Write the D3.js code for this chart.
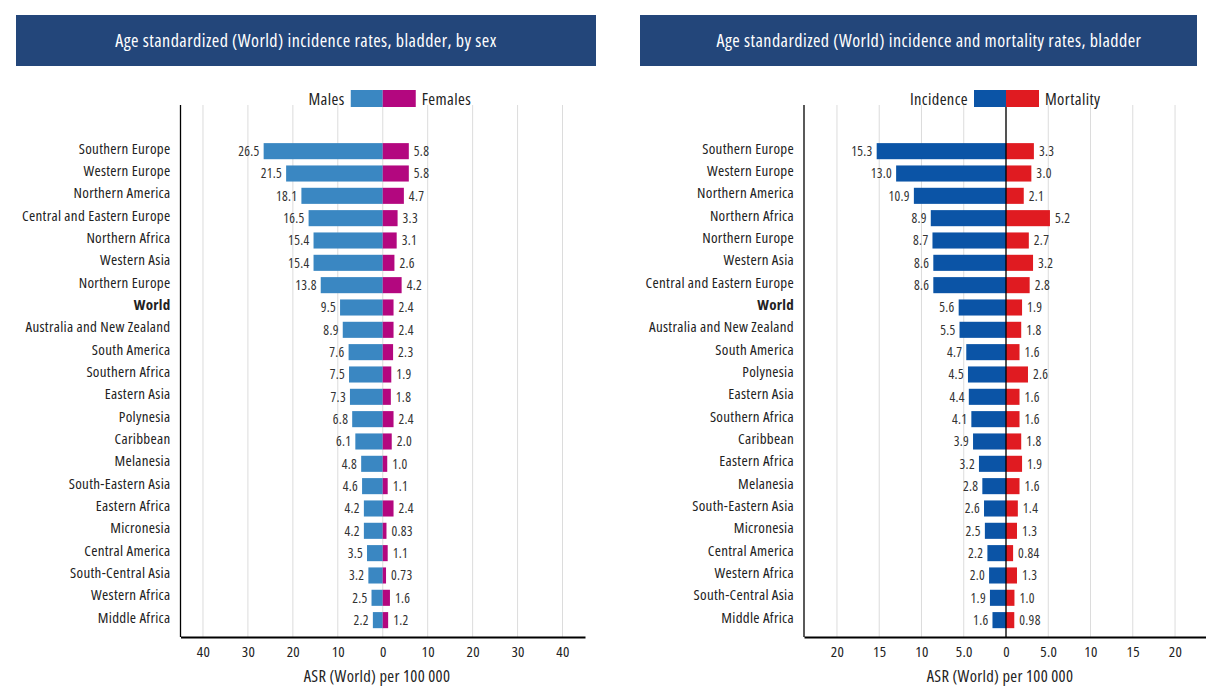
<!DOCTYPE html>
<html>
<head>
<meta charset="utf-8">
<script src="https://cdn.jsdelivr.net/npm/d3@7/dist/d3.min.js"></script>
<style>
  html, body { margin: 0; padding: 0; background: #fff; }
  svg text { font-family: "Open Sans", "Noto Sans", sans-serif; font-stretch: condensed; }
</style>
</head>
<body>
<svg id="chart" width="1206" height="686"></svg>
<script>
// ---- Data: left panel (incidence by sex) ----
const sexCategories = ["Southern Europe","Western Europe","Northern America","Central and Eastern Europe","Northern Africa","Western Asia","Northern Europe","World","Australia and New Zealand","South America","Southern Africa","Eastern Asia","Polynesia","Caribbean","Melanesia","South-Eastern Asia","Eastern Africa","Micronesia","Central America","South-Central Asia","Western Africa","Middle Africa"];
const malesValues   = [26.5,21.5,18.1,16.5,15.4,15.4,13.8,9.5,8.9,7.6,7.5,7.3,6.8,6.1,4.8,4.6,4.2,4.2,3.5,3.2,2.5,2.2];
const femalesValues = [5.8,5.8,4.7,3.3,3.1,2.6,4.2,2.4,2.4,2.3,1.9,1.8,2.4,2.0,1.0,1.1,2.4,0.83,1.1,0.73,1.6,1.2];
const sexTicks = [-40,-30,-20,-10,0,10,20,30,40];

// ---- Data: right panel (incidence and mortality) ----
const imCategories = ["Southern Europe","Western Europe","Northern America","Northern Africa","Northern Europe","Western Asia","Central and Eastern Europe","World","Australia and New Zealand","South America","Polynesia","Eastern Asia","Southern Africa","Caribbean","Eastern Africa","Melanesia","South-Eastern Asia","Micronesia","Central America","Western Africa","South-Central Asia","Middle Africa"];
const incidenceValues = [15.3,13.0,10.9,8.9,8.7,8.6,8.6,5.6,5.5,4.7,4.5,4.4,4.1,3.9,3.2,2.8,2.6,2.5,2.2,2.0,1.9,1.6];
const mortalityValues = [3.3,3.0,2.1,5.2,2.7,3.2,2.8,1.9,1.8,1.6,2.6,1.6,1.6,1.8,1.9,1.6,1.4,1.3,0.84,1.3,1.0,0.98];
const imTicks = [-20,-15,-10,-5,0,5,10,15,20];

const svg = d3.select("#chart");

function fmtVal(v) {
  return v < 1 ? String(v) : d3.format(".1f")(v);
}

function drawPanel(cfg) {
  const g = svg.append("g");
  // Title bar
  g.append("rect")
    .attr("x", cfg.titleX0).attr("y", 15)
    .attr("width", cfg.titleX1 - cfg.titleX0).attr("height", 51)
    .attr("fill", "#23467a");
  g.append("text")
    .attr("x", cfg.titleCx).attr("y", 40)
    .attr("text-anchor", "middle").attr("dominant-baseline", "central")
    .attr("fill", "#fff").attr("font-size", 18).attr("letter-spacing", 0.45)
    .text(cfg.title);

  const x = d3.scaleLinear().domain(cfg.domain).range([cfg.axisX, cfg.axisRight]);
  const y = d3.scaleBand().domain(cfg.categories).range([140, 631.3]).paddingInner(0.28).paddingOuter(0.14);
  const top = 105, bottom = 637;

  // grid lines
  g.append("g").selectAll("line").data(cfg.ticks).join("line")
    .attr("x1", d => x(d)).attr("x2", d => x(d))
    .attr("y1", top).attr("y2", bottom)
    .attr("stroke", "#dcdcdc").attr("stroke-width", 1);

  // bars
  const rows = cfg.categories.map((c, i) => ({c, a: cfg.leftVals[i], b: cfg.rightVals[i]}));
  g.append("g").selectAll("rect").data(rows).join("rect")
    .attr("x", d => x(-d.a)).attr("width", d => x(0) - x(-d.a))
    .attr("y", d => y(d.c)).attr("height", y.bandwidth())
    .attr("fill", cfg.leftColor);
  g.append("g").selectAll("rect").data(rows).join("rect")
    .attr("x", x(0)).attr("width", d => x(d.b) - x(0))
    .attr("y", d => y(d.c)).attr("height", y.bandwidth())
    .attr("fill", cfg.rightColor);

  // value labels
  g.append("g").selectAll("text").data(rows).join("text")
    .attr("x", d => x(-d.a) - 4).attr("y", d => y(d.c) + y.bandwidth() / 2)
    .attr("text-anchor", "end").attr("dominant-baseline", "central")
    .attr("font-size", 13.5).attr("letter-spacing", 0.3).attr("fill", "#333")
    .text(d => fmtVal(d.a));
  g.append("g").selectAll("text").data(rows).join("text")
    .attr("x", d => x(d.b) + 5).attr("y", d => y(d.c) + y.bandwidth() / 2)
    .attr("text-anchor", "start").attr("dominant-baseline", "central")
    .attr("font-size", 13.5).attr("letter-spacing", 0.3).attr("fill", "#333")
    .text(d => fmtVal(d.b));

  // zero line
  if (cfg.zeroLine) {
    g.append("line").attr("x1", x(0)).attr("x2", x(0))
      .attr("y1", top).attr("y2", bottom)
      .attr("stroke", "#000").attr("stroke-width", 1.3);
  }

  // category labels
  g.append("g").selectAll("text").data(cfg.categories).join("text")
    .attr("x", cfg.axisX - 10).attr("y", d => y(d) + y.bandwidth() / 2 - 3.5)
    .attr("text-anchor", "end").attr("dominant-baseline", "central")
    .attr("font-size", 15).attr("letter-spacing", 0.3).attr("fill", "#222")
    .attr("font-weight", d => d === "World" ? "bold" : "normal")
    .text(d => d);

  // y axis line
  g.append("line").attr("x1", cfg.axisX).attr("x2", cfg.axisX)
    .attr("y1", top).attr("y2", bottom)
    .attr("stroke", "#000").attr("stroke-width", 1.3);

  // x axis
  const xAxis = d3.axisBottom(x).tickValues(cfg.ticks).tickSize(0).tickPadding(9)
    .tickFormat(cfg.tickFormat);
  const ax = g.append("g").attr("transform", `translate(0,${bottom})`).call(xAxis);
  ax.select(".domain").attr("stroke", "#000").attr("stroke-width", 2);
  ax.selectAll("text").attr("font-size", 15).attr("fill", "#222").attr("letter-spacing", 0.3)
    .style("font-family", "'Open Sans', 'Noto Sans', sans-serif").style("font-stretch", "condensed");

  g.append("text")
    .attr("x", cfg.axisTitleX).attr("y", 675)
    .attr("text-anchor", "middle").attr("dominant-baseline", "central")
    .attr("font-size", 16.5).attr("letter-spacing", 0.3).attr("fill", "#222")
    .text("ASR (World) per 100 000");

  // legend
  const lx = x(0);
  g.append("rect").attr("x", lx - 32).attr("y", 90).attr("width", 32).attr("height", 17).attr("fill", cfg.leftColor);
  g.append("rect").attr("x", lx).attr("y", 90).attr("width", 33).attr("height", 17).attr("fill", cfg.rightColor);
  g.append("text").attr("x", lx - 38).attr("y", 98)
    .attr("text-anchor", "end").attr("dominant-baseline", "central")
    .attr("font-size", 16.5).attr("letter-spacing", 0.4).attr("fill", "#222").text(cfg.leftName);
  g.append("text").attr("x", lx + 39).attr("y", 98)
    .attr("text-anchor", "start").attr("dominant-baseline", "central")
    .attr("font-size", 16.5).attr("letter-spacing", 0.4).attr("fill", "#222").text(cfg.rightName);
}

drawPanel({
  title: "Age standardized (World) incidence rates, bladder, by sex",
  titleX0: 16, titleX1: 596, titleCx: 306,
  categories: sexCategories, leftVals: malesValues, rightVals: femalesValues,
  leftName: "Males", rightName: "Females",
  leftColor: "#3a87c2", rightColor: "#b3077f",
  domain: [-45, 45], axisX: 180.5, axisRight: 585,
  ticks: sexTicks, tickFormat: d => String(Math.abs(d)),
  zeroLine: false, axisTitleX: 377
});

drawPanel({
  title: "Age standardized (World) incidence and mortality rates, bladder",
  titleX0: 640, titleX1: 1197, titleCx: 929,
  categories: imCategories, leftVals: incidenceValues, rightVals: mortalityValues,
  leftName: "Incidence", rightName: "Mortality",
  leftColor: "#0b54a6", rightColor: "#e01b21",
  domain: [-23.9, 23.9], axisX: 804, axisRight: 1208,
  ticks: imTicks, tickFormat: d => { const a = Math.abs(d); return (a === 5) ? "5.0" : String(a); },
  zeroLine: true, axisTitleX: 1000
});
</script>
</body>
</html>
